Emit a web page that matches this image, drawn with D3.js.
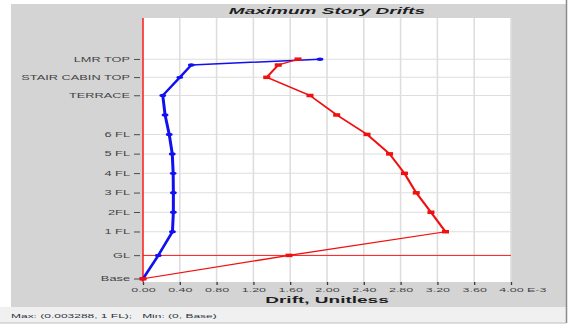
<!DOCTYPE html>
<html>
<head>
<meta charset="utf-8">
<script src="https://cdn.jsdelivr.net/npm/d3@7"></script>
<style>
  html, body { margin: 0; padding: 0; background: #ffffff; }
  svg { display: block; }
  text { font-family: "Liberation Sans", Arial, sans-serif; }
</style>
</head>
<body>
<svg id="chart" width="572" height="331"></svg>
<script>
// Story levels, bottom to top (elevation in m); empty name = level without a label
const stories    = ["Base", "GL", "1 FL", "2FL", "3 FL", "4 FL", "5 FL", "6 FL", "", "TERRACE", "STAIR CABIN TOP", "", "LMR TOP"];
const elevations = [0, 3.6, 7.25, 10.25, 13.25, 16.25, 19.25, 22.25, 25.25, 28.25, 31.05, 32.95, 33.85];

// Maximum story drift per level, in units of 1E-3
const driftX = [0, 0.166, 0.320, 0.330, 0.330, 0.328, 0.318, 0.285, 0.240, 0.215, 0.400, 0.525, 1.924];
const driftY = [0, 1.587, 3.288, 3.130, 2.970, 2.842, 2.680, 2.435, 2.105, 1.815, 1.345, 1.470, 1.685];

const xTicks = [0, 0.4, 0.8, 1.2, 1.6, 2.0, 2.4, 2.8, 3.2, 3.6, 4.0];
const xTickLabels = ["0.00", "0.40", "0.80", "1.20", "1.60", "2.00", "2.40", "2.80", "3.20", "3.60", "4.00"];
const xUnitSuffix = "E-3";
const groundLevel = "GL";

const titleText = "Maximum Story Drifts";
const axisTitle = "Drift, Unitless";
const statusText = "Max: (0.003288, 1 FL);   Min: (0, Base)";

// The drawing works in a 572 x 662 space squeezed to the 331 px high window
const W = 572, H = 662;
const svg = d3.select("#chart")
  .attr("viewBox", `0 0 ${W} ${H}`)
  .attr("preserveAspectRatio", "none");

const plot = { left: 143, right: 511, top: 36, bottom: 564 };

const x = d3.scaleLinear().domain([0, 4.0]).range([plot.left, plot.right]);
const y = d3.scaleLinear().domain([-0.5, 40.2]).range([plot.bottom, plot.top]);

// window panel, status bar
svg.append("rect").attr("x", 0).attr("y", 0).attr("width", W).attr("height", H).attr("fill", "#ffffff");
svg.append("rect").attr("x", 11).attr("y", 8).attr("width", 555).attr("height", 606).attr("fill", "#d4d4d4");
svg.append("rect").attr("x", 0).attr("y", 614).attr("width", 566).attr("height", 32).attr("fill", "#f0f0f0");
svg.append("line").attr("x1", 0).attr("x2", 566).attr("y1", 646).attr("y2", 646)
  .attr("stroke", "#bdbdbd").attr("stroke-width", 2);
svg.append("line").attr("x1", 566.5).attr("x2", 566.5).attr("y1", 0).attr("y2", 646)
  .attr("stroke", "#8a8a8a").attr("stroke-width", 1.5);

// plot area
svg.append("rect")
  .attr("x", plot.left).attr("y", plot.top)
  .attr("width", plot.right - plot.left).attr("height", plot.bottom - plot.top)
  .attr("fill", "#ffffff");

const labelled = stories.map((s, i) => ({ name: s, elev: elevations[i] })).filter(d => d.name !== "");

// grid
svg.append("g").selectAll("line").data(xTicks.filter(t => t > 0)).join("line")
  .attr("x1", d => x(d)).attr("x2", d => x(d))
  .attr("y1", plot.top).attr("y2", plot.bottom)
  .attr("stroke", "#dedede").attr("stroke-width", 1.6);

const glElev = elevations[stories.indexOf(groundLevel)];
svg.append("g").selectAll("line").data(labelled.filter(d => d.elev > 0 && d.elev !== glElev)).join("line")
  .attr("x1", plot.left).attr("x2", plot.right)
  .attr("y1", d => y(d.elev)).attr("y2", d => y(d.elev))
  .attr("stroke", "#dedede").attr("stroke-width", 2);

// zero line and ground level line
svg.append("line")
  .attr("x1", x(0)).attr("x2", x(0)).attr("y1", plot.top).attr("y2", plot.bottom)
  .attr("stroke", "#ff1a1a").attr("stroke-width", 1.5);
svg.append("rect")
  .attr("x", plot.left).attr("width", plot.right - plot.left)
  .attr("y", y(glElev) - 1).attr("height", 2)
  .attr("fill", "#ff1a1a");

// y axis: story ticks and names
const yAxis = d3.axisLeft(y)
  .tickValues(labelled.map(d => d.elev))
  .tickFormat((d, i) => labelled[i].name)
  .tickSize(6).tickPadding(4);
const gy = svg.append("g").attr("transform", `translate(${plot.left - 3},0)`).call(yAxis);
gy.select(".domain").remove();
gy.selectAll(".tick line").attr("stroke", "#4a4a4a").attr("stroke-width", 2);
gy.selectAll(".tick text")
  .attr("fill", "#444444").attr("font-size", 12.8)
  .attr("font-family", "'Liberation Sans', Arial, sans-serif")
  .attr("dy", "0.36em");

// x axis: drift ticks
const xAxis = d3.axisBottom(x)
  .tickValues(xTicks)
  .tickFormat((d, i) => xTickLabels[i])
  .tickSize(6).tickPadding(6);
const gx = svg.append("g").attr("transform", `translate(0,${plot.bottom})`).call(xAxis);
gx.select(".domain").remove();
gx.selectAll(".tick line").attr("stroke", "#3a3a3a").attr("stroke-width", 1.3);
gx.selectAll(".tick text")
  .attr("fill", "#444444").attr("font-size", 12.5)
  .attr("font-family", "'Liberation Sans', Arial, sans-serif")
  .attr("dy", "0.6em");

svg.append("text")
  .attr("x", x(4.0) + 16).attr("y", 584)
  .attr("fill", "#444444").attr("font-size", 12.5)
  .text(xUnitSuffix);

// titles
svg.append("text")
  .attr("x", (plot.left + plot.right) / 2).attr("y", 28)
  .attr("text-anchor", "middle")
  .attr("font-size", 19).attr("font-weight", "bold").attr("font-style", "italic")
  .attr("fill", "#1e1e1e")
  .text(titleText);

svg.append("text")
  .attr("x", (plot.left + plot.right) / 2).attr("y", 606)
  .attr("text-anchor", "middle")
  .attr("font-size", 19).attr("font-weight", "bold")
  .attr("fill", "#1e1e1e")
  .text(axisTitle);

svg.append("text")
  .attr("x", 11).attr("y", 636)
  .attr("font-size", 12).attr("fill", "#2c3440")
  .attr("xml:space", "preserve")
  .style("white-space", "pre")
  .text(statusText);

// drift profiles
const line = d3.line().x(d => x(d.v)).y(d => y(d.e));
const toPts = vals => vals.map((v, i) => ({ v, e: elevations[i] }));

const blue = toPts(driftX), red = toPts(driftY);

svg.append("path").datum(blue).attr("d", line)
  .attr("fill", "none").attr("stroke", "#1010f0").attr("stroke-width", 3).attr("stroke-linejoin", "round");
svg.append("g").selectAll("ellipse").data(blue).join("ellipse")
  .attr("cx", d => x(d.v)).attr("cy", d => y(d.e))
  .attr("rx", 3.4).attr("ry", 3.4).attr("fill", "#1010f0");

svg.append("path").datum(red).attr("d", line)
  .attr("fill", "none").attr("stroke", "#f01010").attr("stroke-width", 2.5).attr("stroke-linejoin", "round");
svg.append("g").selectAll("rect").data(red).join("rect")
  .attr("x", d => x(d.v) - 3.5).attr("y", d => y(d.e) - 3.5)
  .attr("width", 7).attr("height", 7).attr("fill", "#f01010");
</script>
</body>
</html>
